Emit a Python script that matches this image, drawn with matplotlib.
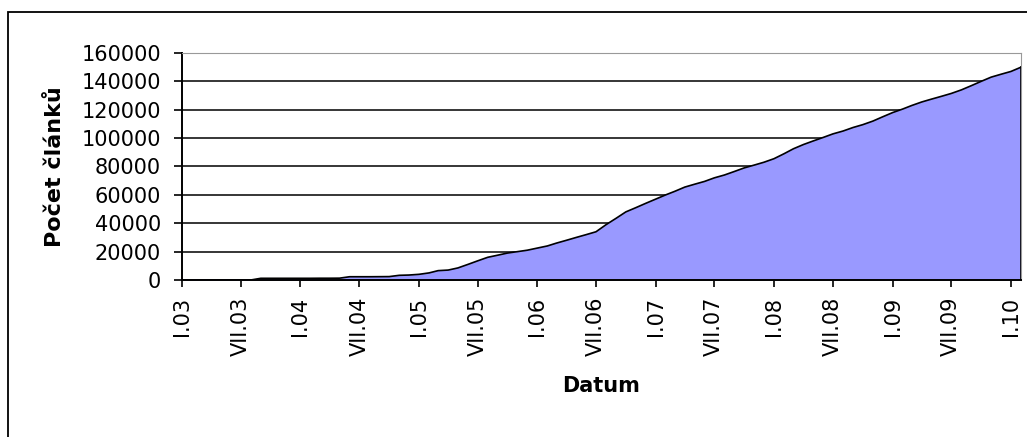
import matplotlib
matplotlib.use('Agg')
import matplotlib.pyplot as plt
import matplotlib.dates as mdates
import pandas as pd
from matplotlib.patches import Rectangle

# monthly article counts, Jan 2003 .. Feb 2010
months = pd.date_range('2003-01-01', '2010-02-01', freq='MS')
counts_2003 = [0, 0, 0, 0, 0, 0, 0, 0, 1200, 1200, 1200, 1200]
counts_2004 = [1200, 1200, 1250, 1250, 1300, 2300, 2300, 2300, 2350, 2400, 3300, 3500]
counts_2005 = [4000, 5000, 6600, 7000, 8500, 11000, 13500, 16000, 17500, 19000, 20000, 21000]
counts_2006 = [22500, 24000, 26000, 28000, 30000, 32000, 34000, 39000, 43500, 48000, 51000, 54000]
counts_2007 = [57000, 60000, 62500, 65500, 67500, 69500, 72000, 74000, 76500, 79000, 81000, 83000]
counts_2008 = [85500, 89000, 92500, 95500, 98000, 100500, 103000, 105000, 107500, 109500, 112000, 115000]
counts_2009 = [118000, 120500, 123000, 125500, 127500, 129500, 131500, 134000, 137000, 140000, 143000, 145000]
counts_2010 = [147000, 150000]
counts = (counts_2003 + counts_2004 + counts_2005 + counts_2006 +
          counts_2007 + counts_2008 + counts_2009 + counts_2010)

tick_dates = pd.date_range('2003-01-01', '2010-01-01', freq='6MS')
tick_labels = [('I.' if d.month == 1 else 'VII.') + d.strftime('%y') for d in tick_dates]
y_ticks = list(range(0, 160001, 20000))

plt.rcParams['font.family'] = ['DejaVu Sans']

fig = plt.figure(figsize=(10.27, 4.37), dpi=100)
ax = fig.add_axes([182 / 1027, 1 - 280 / 437, 839 / 1027, 227 / 437])

ax.fill_between(months, counts, 0, color='#9999FF', zorder=2)
ax.plot(months, counts, color='black', lw=1.2, zorder=3)
ax.plot([months[-1], months[-1]], [0, counts[-1]], color='black', lw=1.2, zorder=3)

ax.set_xlim(months[0], months[-1])
ax.set_ylim(0, 160000)
ax.set_yticks(y_ticks)
ax.set_yticklabels([str(v) for v in y_ticks], fontsize=15)
ax.set_xticks(tick_dates)
ax.set_xticklabels(tick_labels, rotation=90, fontsize=15, va='top', ha='center')

for v in y_ticks[1:-1]:
    ax.axhline(v, color='black', lw=1.1, zorder=1)

ax.tick_params(axis='y', direction='out', length=6, width=1.2, pad=9)
ax.tick_params(axis='x', direction='out', length=5, width=1.2, pad=7)
ax.spines['left'].set_linewidth(1.4)
ax.spines['bottom'].set_linewidth(1.4)
ax.spines['top'].set_color('#999999')
ax.spines['right'].set_color('#999999')
ax.spines['bottom'].set_zorder(4)

ax.set_ylabel('Počet článků', fontsize=16, fontweight='bold', labelpad=12)
ax.set_xlabel('Datum', fontsize=15, fontweight='bold', labelpad=14)

# outer chart frame (only left and top edges fall inside the image)
fig.patches.append(Rectangle((8 / 1027, -0.2), 1.3, 0.2 + 1 - 12 / 437,
                             transform=fig.transFigure, fill=False,
                             edgecolor='black', lw=1.3))

fig.savefig('out.png', dpi=100)
